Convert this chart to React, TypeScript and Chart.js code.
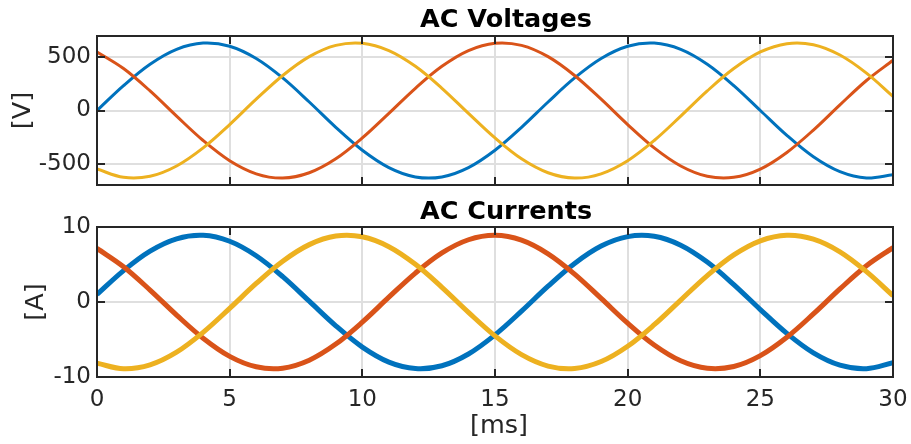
import React, { useEffect, useRef } from "react";
import { Chart, registerables } from "chart.js";

Chart.register(...registerables);

// ---- data ----
const timeMs = [0, 1, 2, 3, 4, 5, 6, 7, 8, 9, 10, 11, 12, 13, 14, 15, 16, 17, 18, 19, 20, 21, 22, 23, 24, 25, 26, 27, 28, 29, 30];

const voltageA = [0, 234, 435, 575, 634, 604, 489, 306, 80, -158, -373, -536, -624, -624, -536, -373, -158, 80, 306, 489, 604, 634, 575, 435, 234, 0, -234, -435, -575, -634, -604];
const voltageB = [550, 394, 184, -53, -282, -472, -595, -635, -585, -454, -258, -27, 209, 415, 563, 632, 612, 506, 329, 106, -132, -351, -521, -618, -628, -550, -394, -184, 53, 282, 472];
const voltageC = [-550, -628, -618, -521, -351, -132, 106, 329, 506, 612, 632, 563, 415, 209, -27, -258, -454, -585, -635, -595, -472, -282, -53, 184, 394, 550, 628, 618, 521, 351, 132];

const currentA = [1.01, 4.19, 6.79, 8.43, 8.89, 8.1, 6.17, 3.38, 0.11, -3.17, -6.01, -8.01, -8.87, -8.5, -6.93, -4.38, -1.22, 2.11, 5.14, 7.46, 8.72, 8.76, 7.57, 5.32, 2.32, -1.01, -4.19, -6.79, -8.43, -8.89, -8.1];
const currentB = [7.15, 4.7, 1.59, -1.74, -4.83, -7.25, -8.64, -8.82, -7.76, -5.61, -2.68, 0.64, 3.86, 6.54, 8.3, 8.9, 8.25, 6.43, 3.72, 0.48, -2.82, -5.73, -7.84, -8.84, -8.6, -7.15, -4.7, -1.59, 1.74, 4.83, 7.25];
const currentC = [-8.16, -8.9, -8.38, -6.69, -4.05, -0.85, 2.47, 5.44, 7.65, 8.79, 8.69, 7.37, 5.02, 1.96, -1.38, -4.52, -7.02, -8.54, -8.86, -7.94, -5.9, -3.03, 0.26, 3.52, 6.28, 8.16, 8.9, 8.38, 6.69, 4.05, 0.85];

const voltageTicks = [-500, 0, 500];
const currentTicks = [-10, 0, 10];
const timeTicks = [0, 5, 10, 15, 20, 25, 30];

// ---- styling ----
const BLUE = "#0072BD";
const ORANGE = "#D95319";
const YELLOW = "#EDB120";
const INK = "#262626";
const GRID = "#dfdfdf";
const FONT = "DejaVu Sans";
const TICK_SIZE = 23;
const LABEL_SIZE = 25.5;
const TITLE_SIZE = 25.5;

const framePlugin = {
  id: "frame",
  afterDraw(chart: any, _args: any, opts: any) {
    const { ctx, chartArea: a, scales } = chart;
    const xs = scales.x;
    const ys = scales.y;
    ctx.save();
    ctx.strokeStyle = INK;
    ctx.lineWidth = 2;
    const L = 8;
    ctx.beginPath();
    xs.ticks.forEach((t: any) => {
      const px = Math.round(xs.getPixelForValue(t.value));
      ctx.moveTo(px, a.top);
      ctx.lineTo(px, a.top + L);
      ctx.moveTo(px, a.bottom);
      ctx.lineTo(px, a.bottom - L);
    });
    ys.ticks.forEach((t: any) => {
      const py = Math.round(ys.getPixelForValue(t.value));
      ctx.moveTo(a.left, py);
      ctx.lineTo(a.left + L, py);
      ctx.moveTo(a.right, py);
      ctx.lineTo(a.right - L, py);
    });
    ctx.stroke();
    ctx.strokeRect(a.left, a.top, a.right - a.left, a.bottom - a.top);

    // title
    ctx.fillStyle = "#000";
    ctx.font = `bold ${TITLE_SIZE}px "${FONT}"`;
    ctx.textAlign = "center";
    ctx.textBaseline = "alphabetic";
    ctx.fillText(opts.title, opts.titleX, opts.titleY);

    // x label
    ctx.fillStyle = INK;
    ctx.font = `${LABEL_SIZE}px "${FONT}"`;
    if (opts.xLabel) {
      ctx.textBaseline = "middle";
      ctx.fillText(opts.xLabel, opts.xLabelX, opts.xLabelY);
    }
    // y label
    ctx.translate(opts.yLabelX, (a.top + a.bottom) / 2);
    ctx.rotate(-Math.PI / 2);
    ctx.textBaseline = "middle";
    ctx.textAlign = "center";
    ctx.fillText(opts.yLabel, 0, 0);
    ctx.restore();
  },
};

function makeConfig(p: {
  series: number[][];
  width: number;
  yMin: number;
  yMax: number;
  yTicks: number[];
  showX: boolean;
  xHeight: number;
  padTop: number;
  frame: any;
}) {
  const colors = [BLUE, ORANGE, YELLOW];
  const names = ["Phase A", "Phase B", "Phase C"];
  return {
    type: "line" as const,
    data: {
      labels: timeMs,
      datasets: p.series.map((s, i) => ({
        label: names[i],
        data: s.map((v, k) => ({ x: timeMs[k], y: v })),
        borderColor: colors[i],
        backgroundColor: colors[i],
        borderWidth: p.width,
        pointRadius: 0,
        tension: 0.35,
        fill: false,
        order: 3 - i,
      })),
    },
    options: {
      animation: false as const,
      responsive: false,
      devicePixelRatio: 1,
      events: [],
      layout: { padding: { left: 0, right: 18, top: p.padTop, bottom: 0 } },
      plugins: {
        legend: { display: false },
        title: { display: false },
        tooltip: { enabled: false },
        frame: p.frame,
      },
      scales: {
        x: {
          type: "linear" as const,
          min: 0,
          max: 30,
          afterBuildTicks: (s: any) => {
            s.ticks = timeTicks.map((v) => ({ value: v }));
          },
          afterFit: (s: any) => {
            s.height = p.xHeight;
            s.paddingLeft = 0;
            s.paddingRight = 0;
          },
          grid: { color: GRID, lineWidth: 2, drawTicks: false },
          border: { display: false },
          ticks: {
            display: p.showX,
            padding: 9,
            color: INK,
            font: { family: FONT, size: TICK_SIZE },
            maxRotation: 0,
            autoSkip: false,
          },
        },
        y: {
          type: "linear" as const,
          min: p.yMin,
          max: p.yMax,
          afterBuildTicks: (s: any) => {
            s.ticks = p.yTicks.map((v) => ({ value: v }));
          },
          afterFit: (s: any) => {
            s.width = 97;
            s.paddingTop = 0;
            s.paddingBottom = 0;
          },
          grid: { color: GRID, lineWidth: 2, drawTicks: false },
          border: { display: false },
          ticks: {
            padding: 6,
            color: INK,
            font: { family: FONT, size: TICK_SIZE },
            autoSkip: false,
          },
        },
      },
    },
    plugins: [framePlugin],
  };
}

function ChartCanvas(props: { height: number; top: number; config: any }) {
  const ref = useRef<HTMLCanvasElement | null>(null);
  useEffect(() => {
    if (!ref.current) return;
    const chart = new Chart(ref.current, props.config);
    return () => chart.destroy();
  }, []);
  return (
    <canvas
      ref={ref}
      width={911}
      height={props.height}
      style={{ position: "absolute", left: 0, top: props.top, width: 911, height: props.height, display: "block" }}
    />
  );
}

export default function App() {
  const voltCfg = makeConfig({
    series: [voltageA, voltageB, voltageC],
    width: 3,
    yMin: -700,
    yMax: 700,
    yTicks: voltageTicks,
    showX: false,
    xHeight: 15,
    padTop: 36,
    frame: { title: "AC Voltages", titleX: 506, titleY: 27, yLabel: "[V]", yLabelX: 23 },
  });
  const currCfg = makeConfig({
    series: [currentA, currentB, currentC],
    width: 5,
    yMin: -10,
    yMax: 10,
    yTicks: currentTicks,
    showX: true,
    xHeight: 67,
    padTop: 27,
    frame: {
      title: "AC Currents",
      titleX: 506,
      titleY: 18.5,
      yLabel: "[A]",
      yLabelX: 36,
      xLabel: "[ms]",
      xLabelX: 499,
      xLabelY: 226,
    },
  });
  return (
    <div style={{ position: "absolute", left: 0, top: 0, width: 911, height: 444, background: "#fff", overflow: "hidden" }}>
      <ChartCanvas height={200} top={0} config={voltCfg} />
      <ChartCanvas height={244} top={200} config={currCfg} />
    </div>
  );
}
